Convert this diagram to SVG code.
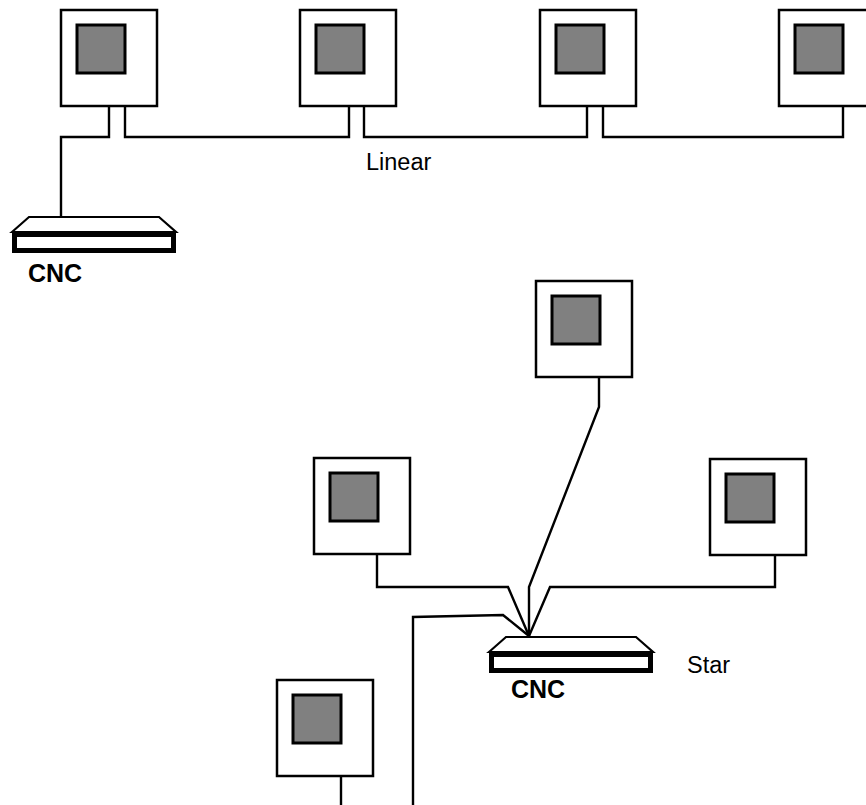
<svg xmlns="http://www.w3.org/2000/svg" width="866" height="805" viewBox="0 0 866 805">
  <style>
    .frame { fill: #ffffff; stroke: #000000; stroke-width: 2.5; }
    .screen { fill: #808080; stroke: #000000; stroke-width: 3; }
    .wire { fill: none; stroke: #000000; stroke-width: 2.4; stroke-linejoin: miter; }
    .lid { fill: #ffffff; stroke: #000000; stroke-width: 2.2; }
    .base { fill: #ffffff; stroke: #000000; stroke-width: 5; }
    .cnc { font-family: "Liberation Sans", Arial, sans-serif; font-weight: bold; font-size: 25px; fill: #000000; }
    .caption { font-family: "Liberation Sans", Arial, sans-serif; font-size: 23.5px; fill: #000000; }
  </style>
  <defs>
    <g id="terminal">
      <rect class="frame" x="0" y="0" width="96" height="96"/>
      <rect class="screen" x="16" y="15" width="48" height="48"/>
    </g>
    <g id="controller">
      <path class="lid" d="M0,15 L17,0 L147,0 L164,15 Z"/>
      <rect class="base" x="2.5" y="17.5" width="159" height="16"/>
    </g>
  </defs>

  <!-- cabling -->
  <g id="connectors">
    <!-- linear bus -->
    <path class="wire" d="M109,106 V137 H61 V217"/>
    <path class="wire" d="M125,106 V137 H349 V106"/>
    <path class="wire" d="M364,106 V137 H587 V106"/>
    <path class="wire" d="M603,106 V137 H843 V106"/>
    <!-- star links -->
    <path class="wire" d="M599,376 V407 L529,587 V636"/>
    <path class="wire" d="M377,554 V587 H508 L529,636"/>
    <path class="wire" d="M775,554 V587 H550 L529,636"/>
    <path class="wire" d="M413,805 V617 L503,615 L529,636"/>
    <path class="wire" d="M341,776 V805"/>
  </g>

  <!-- linear topology -->
  <g id="linear-t1"><use href="#terminal" x="61" y="10"/></g>
  <g id="linear-t2"><use href="#terminal" x="300" y="10"/></g>
  <g id="linear-t3"><use href="#terminal" x="540" y="10"/></g>
  <g id="linear-t4"><use href="#terminal" x="779" y="10"/></g>
  <g id="linear-cnc">
    <use href="#controller" x="12" y="217"/>
    <text class="cnc" x="28" y="282">CNC</text>
  </g>
  <text class="caption" x="366" y="170">Linear</text>

  <!-- star topology -->
  <g id="star-top"><use href="#terminal" x="536" y="281"/></g>
  <g id="star-left"><use href="#terminal" x="314" y="458"/></g>
  <g id="star-right"><use href="#terminal" x="710" y="459"/></g>
  <g id="star-bottom"><use href="#terminal" x="277" y="680"/></g>
  <g id="star-cnc">
    <use href="#controller" x="489" y="637"/>
    <text class="cnc" x="511" y="698">CNC</text>
  </g>
  <text class="caption" x="687" y="673">Star</text>
</svg>
